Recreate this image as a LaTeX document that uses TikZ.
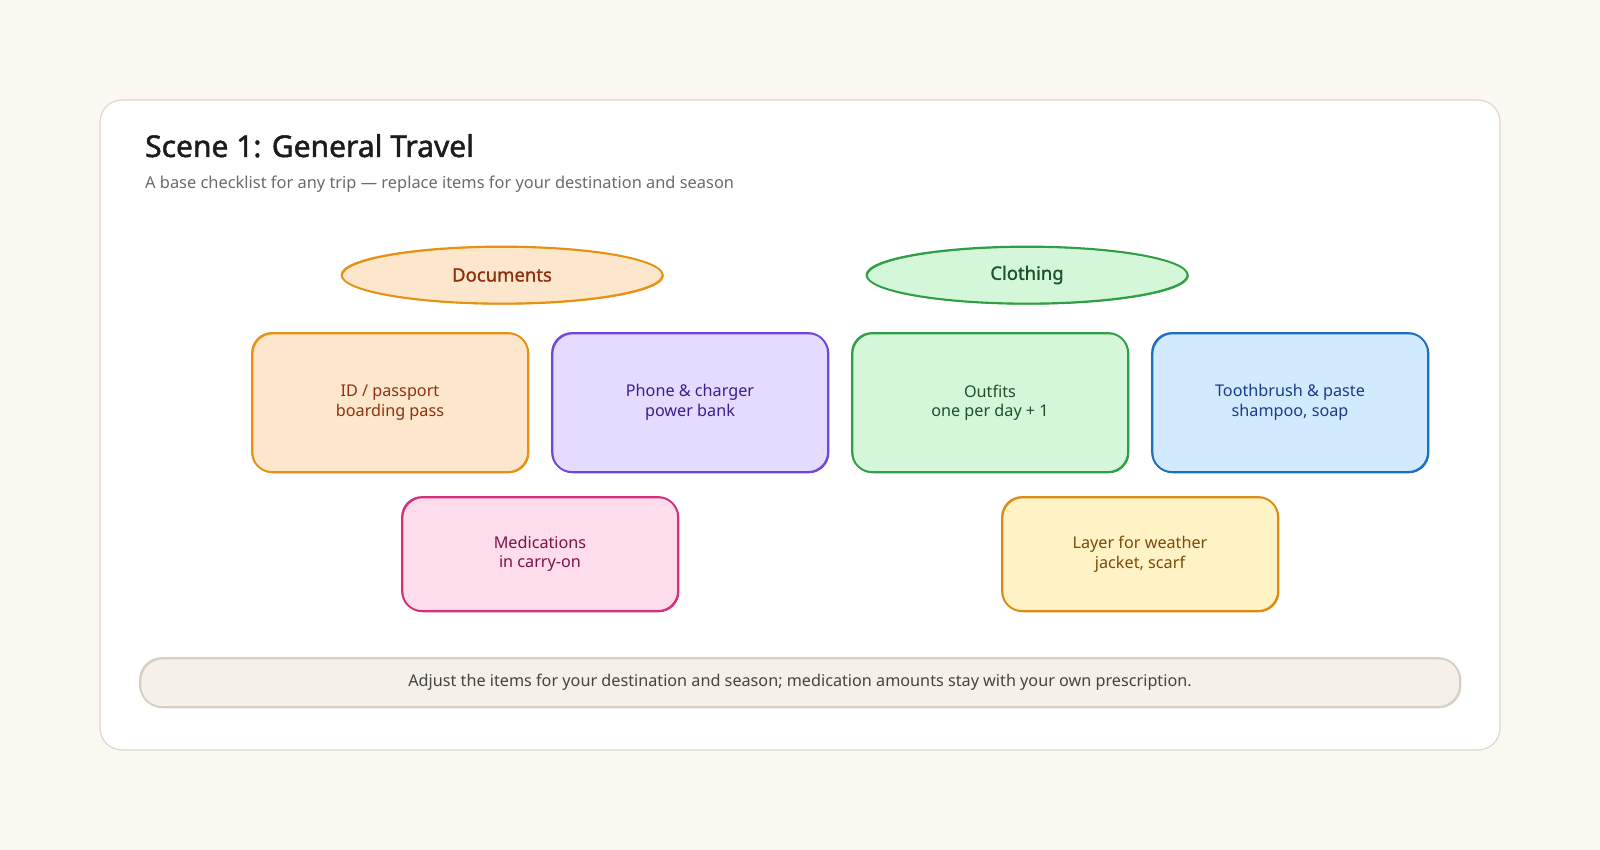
\documentclass[tikz,border=0pt]{standalone}
\usepackage{fontspec}
\setmainfont{Noto Sans}
\usetikzlibrary{shapes.geometric}
\definecolor{bgc}{HTML}{FBF8F1}
\definecolor{cardborder}{HTML}{DDD8CE}
\definecolor{titlec}{HTML}{1C1C1C}
\definecolor{subc}{HTML}{6B6B6B}
% orange (documents / id)
\definecolor{orF}{HTML}{FDE7CC}\definecolor{orS}{HTML}{E8900F}\definecolor{orT}{HTML}{8E300E}
% purple
\definecolor{puF}{HTML}{E5DBFE}\definecolor{puS}{HTML}{6E46DE}\definecolor{puT}{HTML}{3A1D8E}
% pink
\definecolor{piF}{HTML}{FDDDEC}\definecolor{piS}{HTML}{D52F7A}\definecolor{piT}{HTML}{7C1244}
% green
\definecolor{grF}{HTML}{D4F7D9}\definecolor{grS}{HTML}{2F9E44}\definecolor{grT}{HTML}{1E5128}
% blue
\definecolor{blF}{HTML}{D1EAFE}\definecolor{blS}{HTML}{1C6FC0}\definecolor{blT}{HTML}{1B3B8B}
% yellow
\definecolor{yeF}{HTML}{FFF3C6}\definecolor{yeS}{HTML}{DE8A14}\definecolor{yeT}{HTML}{7A4A08}
% footer
\definecolor{ftF}{HTML}{F5F0E8}\definecolor{ftS}{HTML}{D6D0C4}\definecolor{ftT}{HTML}{444444}
\tikzset{
  sketch/.style={draw=#1, line width=1.8pt,
    postaction={draw=#1, line width=0.9pt, transform canvas={xshift=0.9pt,yshift=-0.8pt}}},
  itembox/.style={rectangle, rounded corners=20pt, inner sep=0pt, align=center,
    minimum width=276pt, font=\fontsize{16.2}{19.5}\selectfont},
  catell/.style={ellipse, inner sep=0pt, minimum width=321pt, minimum height=57pt,
    line width=2.2pt, font=\fontsize{18.5}{22}\selectfont\addfontfeature{FakeBold=1.2}},
}
\begin{document}
\begin{tikzpicture}[x=1pt,y=-1pt]
\useasboundingbox[fill=bgc] (0,0) rectangle (1600,850);
% card
\node (card) [draw=cardborder, line width=1.2pt, fill=white, rounded corners=22pt,
  minimum width=1400pt, minimum height=650pt, inner sep=0pt] at (800,425) {};
% title
\node (title) [anchor=base west, inner sep=0pt, text=titlec,
  font=\fontsize{30}{34}\selectfont\addfontfeature{FakeBold=1.6}] at (145,157) {Scene 1: General Travel};
\node (sub) [anchor=base west, inner sep=0pt, text=subc,
  font=\fontsize{16.4}{19}\selectfont] at (145,188.5) {A base checklist for any trip — replace items for your destination and season};
% categories
\node (docs) [catell, fill=orF, sketch=orS, text=orT] at (502,275) {Documents};
\node (cloth) [catell, fill=grF, sketch=grS, text=grT] at (1027,275) {Clothing};
% row 1
\node (id) [itembox, minimum height=139pt, fill=orF, sketch=orS, text=orT] at (390,402.5) {ID / passport\\boarding pass};
\node (phone) [itembox, minimum height=139pt, fill=puF, sketch=puS, text=puT] at (690,402.5) {Phone \& charger\\power bank};
\node (outfits) [itembox, minimum height=139pt, fill=grF, sketch=grS, text=grT] at (990,402.5) {Outfits\\one per day + 1};
\node (tooth) [itembox, minimum height=139pt, fill=blF, sketch=blS, text=blT] at (1290,402.5) {Toothbrush \& paste\\shampoo, soap};
% row 2
\node (meds) [itembox, minimum height=114pt, fill=piF, sketch=piS, text=piT] at (540,554) {Medications\\in carry-on};
\node (layer) [itembox, minimum height=114pt, fill=yeF, sketch=yeS, text=yeT] at (1140,554) {Layer for weather\\jacket, scarf};
% footer
\node (foot) [rectangle, rounded corners=22pt, inner sep=0pt, minimum width=1320pt, minimum height=49pt,
  fill=ftF, sketch=ftS, text=ftT, font=\fontsize{16.2}{19}\selectfont] at (800,682.5)
  {Adjust the items for your destination and season; medication amounts stay with your own prescription.};
\end{tikzpicture}
\end{document}
